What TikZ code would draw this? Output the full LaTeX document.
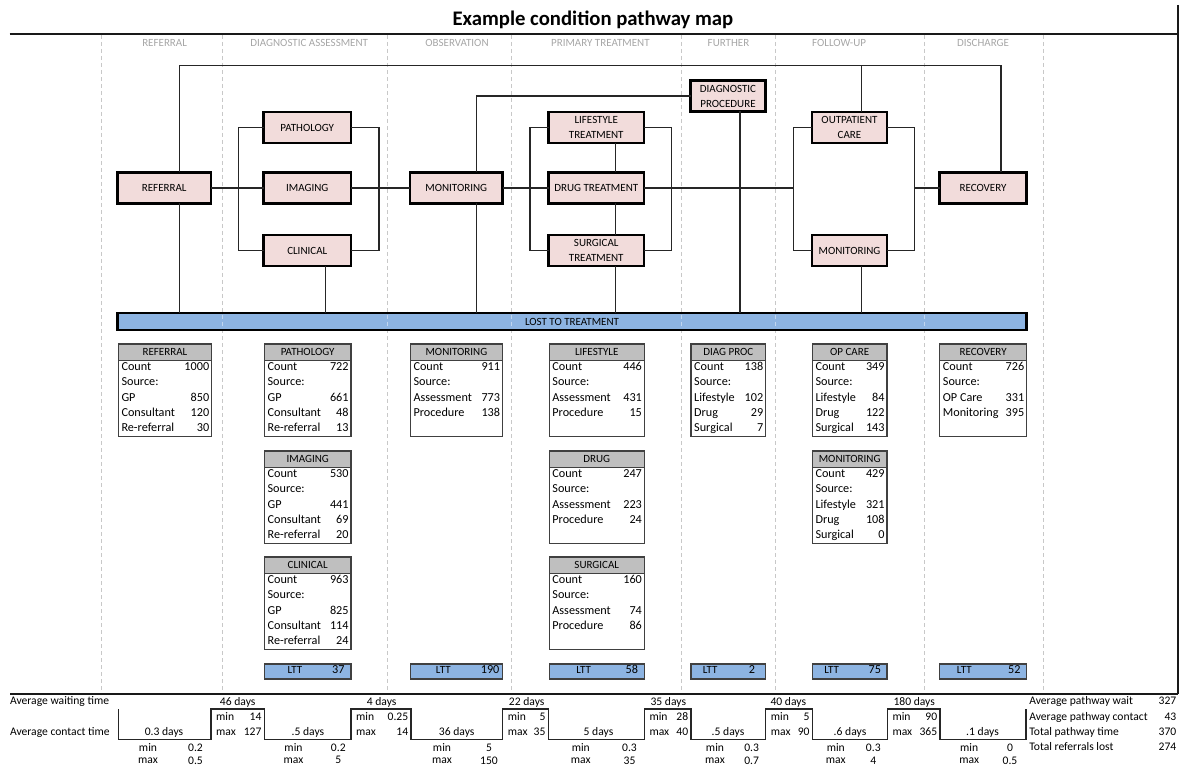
\documentclass[tikz,border=0pt]{standalone}
\usepackage{fontspec}
\setmainfont{Carlito}
\usetikzlibrary{calc}

\definecolor{boxpink}{RGB}{242,220,219}
\definecolor{lttblue}{RGB}{141,180,226}
\definecolor{headgray}{RGB}{191,191,191}
\definecolor{lanegray}{RGB}{166,166,166}
\definecolor{dashgray}{RGB}{200,200,200}
\definecolor{tableline}{RGB}{64,64,64}

\newcommand\stagefont{\fontsize{11}{15}\selectfont}
\newcommand\lanefont{\fontsize{11}{13}\selectfont}
\newcommand\headfont{\fontsize{11}{13}\selectfont}
\newcommand\cellfont{\fontsize{12.2}{14}\selectfont}
\newcommand\footfont{\fontsize{11.6}{14}\selectfont}
\newcommand\titlefont{\bfseries\fontsize{20.7}{24}\selectfont}

\tikzset{
  every node/.style={inner sep=0pt, outer sep=0pt},
  stage/.style={draw=black, line width=2.2pt, fill=boxpink, font=\stagefont,
    align=center, text=black, minimum height=31pt},
  link/.style={line width=1.2pt, black!85},
  lane/.style={dashgray, line width=0.8pt, dash pattern=on 4pt off 3pt},
  lanehead/.style={text=lanegray, font=\lanefont},
  tbody/.style={draw=tableline, line width=1.3pt, fill=white},
  thead/.style={draw=tableline, line width=1.3pt, fill=headgray, font=\headfont},
  tcell/.style={font=\cellfont},
  lttbox/.style={draw=tableline, line width=1.3pt, fill=lttblue},
  foot/.style={font=\footfont},
  frame/.style={line width=2pt, black!90},
  stepline/.style={line width=1.5pt, black!85, line join=miter},
}

% data table: name, left x, right x, top y, title, rows (label/value)
\newcommand\datatable[6]{%
  \pgfmathsetmacro\tabw{#3-#2}%
  \node[tbody, minimum width=\tabw pt, minimum height=92.5pt, anchor=north west] (#1) at (#2,#4) {};
  \node[thead, minimum width=\tabw pt, minimum height=16.5pt, anchor=north west] (#1-head) at (#2,#4) {#5};
  \foreach \lab/\val [count=\k] in {#6} {
    \node[tcell, anchor=mid west] (#1-lab\k) at ({#2+3.2},{#4+24.3+15.2*(\k-1)}) {\lab};
    \node[tcell, anchor=mid east] (#1-val\k) at ({#3-2.4},{#4+24.3+15.2*(\k-1)}) {\val};
  }%
}

% lost-to-treatment cell: name, left x, right x, label centre x, value right x, value
\newcommand\lttcell[6]{%
  \pgfmathsetmacro\tabw{#3-#2}%
  \node[lttbox, minimum width=\tabw pt, minimum height=15pt, anchor=north west] (#1) at (#2,664) {};
  \node[font=\headfont, anchor=mid] (#1-lab) at (#4,671.5) {LTT};
  \node[tcell, anchor=mid east] (#1-val) at (#5,671.5) {#6};
}

\begin{document}
\begin{tikzpicture}[x=1pt, y=-1pt]
\useasboundingbox (0,0) rectangle (1180,767);

% title and frame
\node[font=\titlefont] (title) at (592.9,19.5) {Example condition pathway map};
\draw[frame] (9.6,34) -- (1178.3,34);
\draw[frame] (1178.3,5) -- (1178.3,693.5);
\draw[frame] (10,693.5) -- (1178.3,693.5);

% lane separators
\foreach \x in {101.5,222.4,387,511.2,681.5,775.4,924.6,1042.9}
  \draw[lane] (\x,35) -- (\x,692);

% lane headings
\foreach \x/\t [count=\i] in {164.6/REFERRAL, 309.2/DIAGNOSTIC ASSESSMENT,
    457/OBSERVATION, 600.4/PRIMARY TREATMENT, 728.5/FURTHER,
    839.1/FOLLOW-UP, 983/DISCHARGE}
  \node[lanehead] (lanehead\i) at (\x,42.7) {\t};

% pathway stages
\node[stage, minimum width=93.5pt] (ref)  at (164.25,188)  {REFERRAL};
\node[stage, minimum width=87.5pt] (path) at (307.25,127.5) {PATHOLOGY};
\node[stage, minimum width=87.5pt] (img)  at (307.25,188)  {IMAGING};
\node[stage, minimum width=87.5pt] (clin) at (307.25,250.5) {CLINICAL};
\node[stage, minimum width=92.5pt] (mon)  at (456.25,188)  {MONITORING};
\node[stage, minimum width=95.5pt] (life) at (596.25,127.5) {LIFESTYLE\\TREATMENT};
\node[stage, minimum width=95.5pt] (drug) at (596.25,188)  {DRUG TREATMENT};
\node[stage, minimum width=95.5pt] (surg) at (596.25,250.5) {SURGICAL\\TREATMENT};
\node[stage, minimum width=75pt]   (diag) at (728,96)      {DIAGNOSTIC\\PROCEDURE};
\node[stage, minimum width=75pt]   (opc)  at (849.5,127.5) {OUTPATIENT\\CARE};
\node[stage, minimum width=75pt]   (fmon) at (849.5,250.5) {MONITORING};
\node[stage, minimum width=87pt]   (rec)  at (983,188)     {RECOVERY};

% lost to treatment bar
\node[draw=black, line width=2.2pt, fill=lttblue, minimum width=909pt,
  minimum height=17pt, font=\stagefont] (lost) at (572,321.5) {LOST TO TREATMENT};
\foreach \x in {222.4,387,511.2,681.5,775.4,924.6}
  \draw[lane, white, opacity=0.45] (\x,314.6) -- (\x,328.4);

% guide coordinates for buses and brackets
\coordinate (bus)   at (0,65.3);
\coordinate (vref)  at (179.5,0);
\coordinate (vclin) at (325.7,0);
\coordinate (vmon)  at (476.5,0);
\coordinate (vsurg) at (615.2,0);
\coordinate (vdiag) at (740,0);
\coordinate (vop)   at (861.3,0);
\coordinate (vrec)  at (1001,0);
\coordinate (bl) at (238.8,0);
\coordinate (br) at (378.9,0);
\coordinate (tl) at (530,0);
\coordinate (tr) at (671.8,0);
\coordinate (fl) at (793.2,0);
\coordinate (fr) at (914.5,0);

% connectors
\draw[link] (ref.north -| vref) -- (bus -| vref) -- (bus -| vrec) -- (rec.north -| vrec);
\draw[link] (opc.north -| vop) -- (bus -| vop);
\draw[link] (mon.north -| vmon) |- (diag.west);
\draw[link] (ref.east) -- (img.west);
\draw[link] (path.west) -- (path.west -| bl) -- (clin.west -| bl) -- (clin.west);
\draw[link] (path.east) -- (path.east -| br) -- (clin.east -| br) -- (clin.east);
\draw[link] (img.east) -- (mon.west);
\draw[link] (mon.east) -- (drug.west);
\draw[link] (life.west) -- (life.west -| tl) -- (surg.west -| tl) -- (surg.west);
\draw[link] (life.east) -- (life.east -| tr) -- (surg.east -| tr) -- (surg.east);
\draw[link] (life.south -| vsurg) -- (drug.north -| vsurg);
\draw[link] (drug.south -| vsurg) -- (surg.north -| vsurg);
\draw[link] (drug.east) -- (drug.east -| fl);
\draw[link] (opc.west) -- (opc.west -| fl) -- (fmon.west -| fl) -- (fmon.west);
\draw[link] (opc.east) -- (opc.east -| fr) -- (fmon.east -| fr) -- (fmon.east);
\draw[link] (rec.west -| fr) -- (rec.west);
\draw[link] (ref.south -| vref)   -- (lost.north -| vref);
\draw[link] (clin.south -| vclin) -- (lost.north -| vclin);
\draw[link] (mon.south -| vmon)   -- (lost.north -| vmon);
\draw[link] (surg.south -| vsurg) -- (lost.north -| vsurg);
\draw[link] (diag.south -| vdiag) -- (lost.north -| vdiag);
\draw[link] (fmon.south -| vop)   -- (lost.north -| vop);

% stage tables
\datatable{tref}{118.3}{211.6}{344}{REFERRAL}{Count/1000, Source:/, GP/850, Consultant/120, Re-referral/30}
\datatable{tpath}{264.4}{351}{344}{PATHOLOGY}{Count/722, Source:/, GP/661, Consultant/48, Re-referral/13}
\datatable{timg}{264.4}{351}{451}{IMAGING}{Count/530, Source:/, GP/441, Consultant/69, Re-referral/20}
\datatable{tclin}{264.4}{351}{557}{CLINICAL}{Count/963, Source:/, GP/825, Consultant/114, Re-referral/24}
\datatable{tmon}{410.3}{502.5}{344}{MONITORING}{Count/911, Source:/, Assessment/773, Procedure/138}
\datatable{tlife}{549.2}{644.3}{344}{LIFESTYLE}{Count/446, Source:/, Assessment/431, Procedure/15}
\datatable{tdrug}{549.2}{644.3}{451}{DRUG}{Count/247, Source:/, Assessment/223, Procedure/24}
\datatable{tsurg}{549.2}{644.3}{557}{SURGICAL}{Count/160, Source:/, Assessment/74, Procedure/86}
\datatable{tdiag}{691}{765.6}{344}{DIAG PROC}{Count/138, Source:/, Lifestyle/102, Drug/29, Surgical/7}
\datatable{topc}{812.3}{887}{344}{OP CARE}{Count/349, Source:/, Lifestyle/84, Drug/122, Surgical/143}
\datatable{tfmon}{812.3}{887}{451}{MONITORING}{Count/429, Source:/, Lifestyle/321, Drug/108, Surgical/0}
\datatable{trec}{939.7}{1026.6}{344}{RECOVERY}{Count/726, Source:/, OP Care/331, Monitoring/395}

% lost-to-treatment counts
\lttcell{lpath}{264.4}{351}{295}{344.5}{37}
\lttcell{lmon}{410.3}{502.5}{443.3}{499.4}{190}
\lttcell{llife}{549.2}{644.3}{583.6}{638}{58}
\lttcell{ldiag}{691}{765.6}{710.2}{755}{2}
\lttcell{lopc}{812.3}{887}{831.6}{881}{75}
\lttcell{lrec}{939.7}{1026.6}{964.3}{1020.5}{52}

% timing strip
\node[foot, anchor=mid west] (waitlab) at (10,702.3) {Average waiting time};
\node[foot, anchor=mid west] (contlab) at (10,732.7) {Average contact time};

\draw[stepline] (118.3,709) |- (211,739.3) |- (264.3,709) |- (351,739.3)
  |- (411,709) |- (502.7,739.3) |- (548.3,709) |- (644.3,739.3)
  |- (691,709) |- (765.7,739.3) |- (812.3,709) |- (887.3,739.3)
  |- (940,709) |- (1026,739.3) -- (1026,709);

\foreach \x/\t [count=\i] in {237.7/46 days, 381.7/4 days, 526.7/22 days,
    668.3/35 days, 788.3/40 days, 914.2/180 days}
  \node[foot] (wait\i) at (\x,702.3) {\t};

\foreach \l/\r/\mn/\mx [count=\i] in {211/264.3/14/127, 351/411/0.25/14,
    502.7/548.3/5/35, 644.3/691/28/40, 765.7/812.3/5/90, 887.3/940/90/365} {
  \node[foot, anchor=mid west] (wminl\i) at (\l+5.2,718.3) {min};
  \node[foot, anchor=mid east] (wminv\i) at (\r-2.8,718.3) {\mn};
  \node[foot, anchor=mid west] (wmaxl\i) at (\l+5.2,732.7) {max};
  \node[foot, anchor=mid east] (wmaxv\i) at (\r-2.8,732.7) {\mx};
}

\foreach \x/\t [count=\i] in {164/0.3 days, 308/.5 days, 456.7/36 days,
    598.5/5 days, 728/.5 days, 850/.6 days, 982.5/.1 days}
  \node[foot] (cont\i) at (\x,732.7) {\t};

\foreach \m/\v/\mn/\mx [count=\i] in {148/195.5/0.2/0.5, 293.5/338.3/0.2/5,
    442/489/5/150, 580.8/629.5/0.3/35, 715/751.7/0.3/0.7, 835.8/873.3/0.3/4,
    969.2/1010/0/0.5} {
  \node[foot] (cminl\i) at (\m,747.8) {min};
  \node[foot] (cminv\i) at (\v,747.8) {\mn};
  \node[foot] (cmaxl\i) at (\m,760.3) {max};
  \node[foot] (cmaxv\i) at (\v,760.3) {\mx};
}

% pathway totals
\foreach \y/\t/\v [count=\i] in {702.3/Average pathway wait/327,
    718.3/Average pathway contact/43, 732.7/Total pathway time/370,
    747.8/Total referrals lost/274} {
  \node[foot, anchor=mid west] (totl\i) at (1029.3,\y) {\t};
  \node[foot, anchor=mid east] (totv\i) at (1176.3,\y) {\v};
}
\end{tikzpicture}
\end{document}
